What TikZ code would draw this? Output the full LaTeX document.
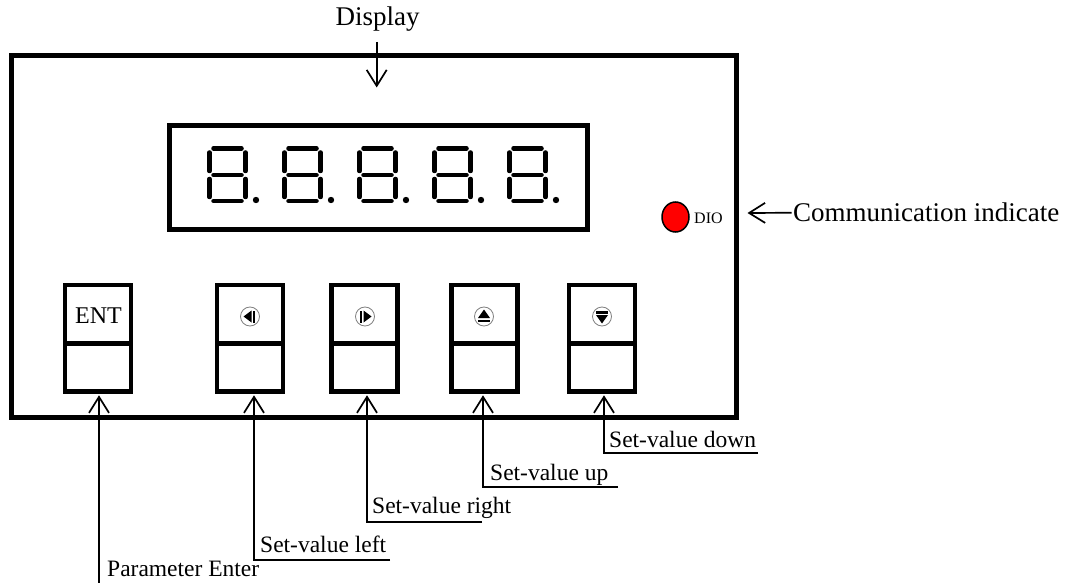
\documentclass[tikz,border=0pt]{standalone}
\usepackage{fontspec}
\setmainfont{Liberation Serif}
\usetikzlibrary{arrows.meta}
\begin{document}
\begin{tikzpicture}[x=1pt,y=-1pt,
  frame/.style={line width=5pt},
  btn/.style={draw, line width=4.5pt, minimum width=66pt, minimum height=106.5pt, inner sep=0pt},
  seg/.style={line width=4.5pt, line cap=round},
  arr/.style={line width=1.7pt, -{Straight Barb[length=16pt,width=20pt]}, shorten >=1.5pt},
  big/.style={font=\fontsize{27}{30}\selectfont, inner sep=0pt},
  lbl/.style={font=\fontsize{23.5}{26}\selectfont, inner sep=0pt, anchor=base west},
  sym/.style={draw=gray, line width=0.8pt},
]
\useasboundingbox (0,0) rectangle (1069,583);

% outer frame and display window
\draw[frame] (11,56) rectangle (736,417);
\draw[frame] (169.5,125.5) rectangle (587,229);

% seven segment digits
\foreach \x in {207,282,357,432,507}{
  \draw[seg] ({\x+6.5},148.5) -- ({\x+34.5},148.5);
  \draw[seg] ({\x+6.5},175) -- ({\x+34.5},175);
  \draw[seg] ({\x+6.5},201) -- ({\x+34.5},201);
  \draw[seg] ({\x+2.5},152.5) -- ({\x+2.5},171);
  \draw[seg] ({\x+38.5},152.5) -- ({\x+38.5},171);
  \draw[seg] ({\x+2.5},179) -- ({\x+2.5},197);
  \draw[seg] ({\x+38.5},179) -- ({\x+38.5},197);
  \fill ({\x+49},200) circle (3.2);
}

% Display label
\node[big, anchor=base] (disp) at (377.7,26) {Display};
\coordinate (dtop) at (376.7,42);
\coordinate (dtip) at (376.7,89);
\draw[arr] (dtop) -- (dtip);

% LED
\draw[line width=1.5pt, fill=red] (675.5,217) ellipse [x radius=13.5, y radius=15];
\node[font=\fontsize{16}{18}\selectfont, inner sep=0pt, anchor=base west] (dio) at (694,223) {DIO};

% communication indicate
\node[big, anchor=base west, inner xsep=1.5pt] (comm) at (791.5,222) {Communication indicate};
\coordinate (ctip) at (746,213);
\draw[arr] (comm.west) -- (ctip);

% buttons
\node[btn] (b1) at (98,338.25) {};
\node[btn] (b2) at (250,338.25) {};
\node[btn] (b3) at (364.5,338.25) {};
\node[btn] (b4) at (484.5,338.25) {};
\node[btn] (b5) at (602,338.25) {};
\foreach \c in {98,250,364.5,484.5,602}{
  \draw[line width=4.5pt] ({\c-33},343.5) -- ({\c+33},343.5);
}

% button symbols
\node[font=\fontsize{24}{26}\selectfont, inner sep=0pt, anchor=base] (ent) at (98.5,323) {ENT};
\begin{scope}[shift={(250,316.5)}]
  \draw[sym] (0,0) circle (9.5);
  \fill (-6.5,0) -- (1.5,-6) -- (1.5,6) -- cycle;
  \fill (3,-6) rectangle (5.2,6);
\end{scope}
\begin{scope}[shift={(365,316.5)}]
  \draw[sym] (0,0) circle (9.5);
  \fill (6.5,0) -- (-1.5,-6) -- (-1.5,6) -- cycle;
  \fill (-3,-6) rectangle (-5.2,6);
\end{scope}
\begin{scope}[shift={(484,316.5)}]
  \draw[sym] (0,0) circle (9.5);
  \fill (0,-7) -- (-6,1.5) -- (6,1.5) -- cycle;
  \fill (-6,3) rectangle (6,5.2);
\end{scope}
\begin{scope}[shift={(602,316.5)}]
  \draw[sym] (0,0) circle (9.5);
  \fill (0,7) -- (-6,-1.5) -- (6,-1.5) -- cycle;
  \fill (-6,-3) rectangle (6,-5.2);
\end{scope}

% labels with leaders
\node[lbl] (lpe) at (107,576) {Parameter Enter};
\coordinate (pe) at (99,583);
\draw[arr] (pe) -- (pe |- b1.south);

\node[lbl] (lleft) at (260,552) {Set-value left};
\coordinate (c2) at (254,560);
\coordinate (e2) at (390,560);
\draw[arr] (e2) -- (c2) -- (c2 |- b2.south);

\node[lbl] (lright) at (372,513) {Set-value right};
\coordinate (c3) at (367,522);
\coordinate (e3) at (482,522);
\draw[arr] (e3) -- (c3) -- (c3 |- b3.south);

\node[lbl] (lup) at (490,480) {Set-value up};
\coordinate (c4) at (483,487);
\coordinate (e4) at (618,487);
\draw[arr] (e4) -- (c4) -- (c4 |- b4.south);

\node[lbl] (ldown) at (609,447) {Set-value down};
\coordinate (c5) at (604,453);
\coordinate (e5) at (758,453);
\draw[arr] (e5) -- (c5) -- (c5 |- b5.south);

\end{tikzpicture}
\end{document}
